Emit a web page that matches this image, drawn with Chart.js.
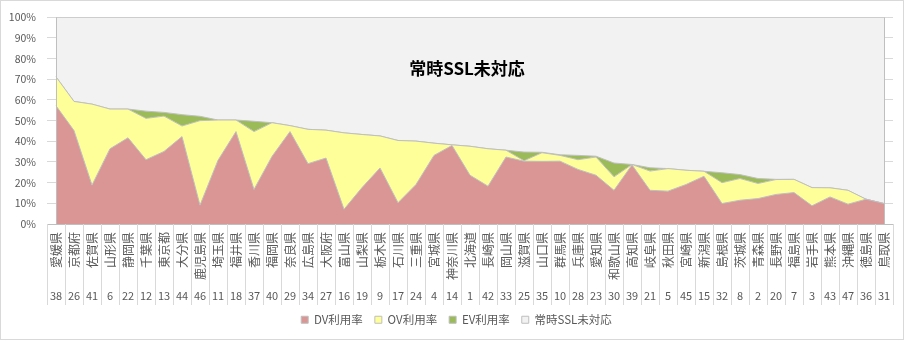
<!DOCTYPE html>
<html>
<head>
<meta charset="utf-8">
<script src="https://cdn.jsdelivr.net/npm/chart.js@4.4.1/dist/chart.umd.min.js"></script>
<style>
  html, body { margin: 0; padding: 0; background: #ffffff; }
  #wrap { width: 908px; height: 342px; }
</style>
</head>
<body>
<div id="wrap"><canvas id="grafico-ssl"></canvas></div>
<script>
// 都道府県（常時SSL未対応率の低い順）
var prefectures = ["愛媛県", "京都府", "佐賀県", "山形県", "静岡県", "千葉県", "東京都", "大分県", "鹿児島県", "埼玉県",
    "福井県", "香川県", "福岡県", "奈良県", "広島県", "大阪府", "富山県", "山梨県", "栃木県", "石川県",
    "三重県", "宮城県", "神奈川県", "北海道", "長崎県", "岡山県", "滋賀県", "山口県", "群馬県", "兵庫県",
    "愛知県", "和歌山県", "高知県", "岐阜県", "秋田県", "宮崎県", "新潟県", "島根県", "茨城県", "青森県",
    "長野県", "福島県", "岩手県", "熊本県", "沖縄県", "徳島県", "鳥取県"];

var prefCodes = ["38", "26", "41", "6", "22", "12", "13", "44", "46", "11",
    "18", "37", "40", "29", "34", "27", "16", "19", "9", "17",
    "24", "4", "14", "1", "42", "33", "25", "35", "10", "28",
    "23", "30", "39", "21", "5", "45", "15", "32", "8", "2",
    "20", "7", "3", "43", "47", "36", "31"];

var dvRate = [57.2, 45.2, 18.8, 36.4, 41.7, 31.1, 35.1, 42.3, 9.1, 30.8,
    44.7, 16.7, 32.7, 44.7, 29.2, 31.9, 7.1, 17.6, 27.1, 10.3,
    19.1, 33.2, 38.0, 23.6, 18.3, 32.4, 30.4, 30.3, 30.4, 26.4,
    23.6, 16.3, 28.6, 16.3, 15.9, 19.1, 23.1, 9.9, 11.5, 12.3,
    14.3, 15.2, 8.8, 13.1, 9.6, 12.0, 9.9];

var ovRate = [14.0, 14.1, 39.2, 19.2, 13.9, 20.0, 17.1, 5.1, 40.9, 19.5,
    5.6, 28.0, 16.3, 2.9, 16.6, 13.5, 37.0, 25.7, 15.5, 30.1,
    21.0, 5.9, 0.3, 14.0, 18.1, 3.3, 0.2, 4.2, 2.8, 4.7,
    8.8, 6.5, 0.2, 9.3, 10.9, 6.9, 2.4, 10.1, 10.5, 7.3,
    7.2, 6.4, 8.8, 4.4, 6.7, 0, 0];

var evRate = [0, 0, 0, 0, 0, 3.5, 1.8, 5.5, 2.1, 0,
    0, 5.0, 0, 0, 0, 0, 0, 0, 0, 0,
    0, 0, 0, 0, 0, 0, 4.2, 0.2, 0.3, 2.1,
    0.4, 6.7, 0, 1.6, 0, 0, 0, 4.8, 1.9, 2.4,
    0.1, 0, 0, 0, 0, 0, 0];

var noSslRate = [28.8, 40.7, 42.0, 44.4, 44.4, 45.4, 46.0, 47.1, 47.9, 49.7,
    49.7, 50.3, 51.0, 52.4, 54.2, 54.6, 55.9, 56.7, 57.4, 59.6,
    59.9, 60.9, 61.7, 62.4, 63.6, 64.3, 65.2, 65.3, 66.5, 66.8,
    67.2, 70.5, 71.2, 72.8, 73.2, 74.0, 74.5, 75.2, 76.1, 78.0,
    78.4, 78.4, 82.4, 82.5, 83.7, 88.0, 90.1];

var yTicks = [0, 10, 20, 30, 40, 50, 60, 70, 80, 90, 100];

var fonte = "'Noto Sans CJK JP', 'Noto Sans', sans-serif";
var cinza = "#595959";

// 凡例の位置調整 / 図中の系列名 / 区切り線 / 外枠
var extras = {
    id: "extras",
    afterLayout: function (chart) {
        chart.legend.left += 20;
        chart.legend.width -= 20;
    },
    afterDatasetsDraw: function (chart) {
        var ctx = chart.ctx;
        var area = chart.chartArea;
        var x = chart.scales.x;
        var y = chart.scales.y;
        ctx.save();
        ctx.strokeStyle = "#bfbfbf";
        ctx.lineWidth = 1;
        var p0 = Math.round(x.getPixelForTick(0)) + 0.5;
        var p1 = Math.round(x.getPixelForTick(prefectures.length - 1)) + 0.5;
        ctx.beginPath();
        ctx.moveTo(p0, area.top);
        ctx.lineTo(p0, area.bottom);
        ctx.moveTo(p1, area.top);
        ctx.lineTo(p1, area.bottom);
        ctx.stroke();

        ctx.fillStyle = "#000000";
        ctx.font = "bold 17px " + fonte;
        ctx.textAlign = "center";
        ctx.textBaseline = "middle";
        ctx.fillText("常時SSL未対応", (area.left + area.right) / 2 - 3, y.getPixelForValue(75));
        ctx.restore();
    },
    afterDraw: function (chart) {
        var ctx = chart.ctx;
        var area = chart.chartArea;
        var x = chart.scales.x;
        var x2 = chart.scales.x2;
        var w = x.getPixelForTick(1) - x.getPixelForTick(0);
        ctx.save();
        ctx.strokeStyle = "#d9d9d9";
        ctx.lineWidth = 1;
        ctx.beginPath();
        for (var i = 0; i <= prefectures.length; i++) {
            var px = Math.round(x.getPixelForTick(0) - w / 2 + i * w) + 0.5;
            ctx.moveTo(px, area.bottom);
            ctx.lineTo(px, x2.bottom + 3);
        }
        ctx.stroke();
        ctx.strokeRect(0.5, 0.5, 903, 339);
        ctx.restore();
    }
};

var referencia = document.querySelector("#grafico-ssl").getContext("2d");

var graficoSsl = new Chart(referencia, {
    type: "line",
    data: {
        labels: prefectures,
        datasets: [{
                label: "DV利用率",
                data: dvRate,
                backgroundColor: "#d99694",
                borderColor: "#bfbfbf",
                borderWidth: 1,
                fill: "origin"
            },
            {
                label: "OV利用率",
                data: ovRate,
                backgroundColor: "#ffff99",
                borderColor: "#bfbfbf",
                borderWidth: 1,
                fill: "-1"
            },
            {
                label: "EV利用率",
                data: evRate,
                backgroundColor: "#9bbb59",
                borderColor: "#bfbfbf",
                borderWidth: 1,
                fill: "-1"
            },
            {
                label: "常時SSL未対応",
                data: noSslRate,
                backgroundColor: "#f2f2f2",
                borderColor: "#bfbfbf",
                borderWidth: 1,
                fill: "-1"
            }
        ]
    },
    options: {
        responsive: true,
        maintainAspectRatio: false,
        animation: false,
        devicePixelRatio: 1,
        elements: {
            point: { radius: 0, hoverRadius: 0 },
            line: { tension: 0 }
        },
        layout: {
            padding: { left: 0, right: 15, top: 15, bottom: 6.5 }
        },
        plugins: {
            tooltip: { enabled: false },
            legend: {
                position: "bottom",
                labels: {
                    boxWidth: 7,
                    boxHeight: 7,
                    padding: 12,
                    color: cinza,
                    font: { family: fonte, size: 11.5 }
                }
            }
        },
        scales: {
            x: {
                type: "category",
                offset: true,
                weight: 0,
                grid: { display: false, drawTicks: false },
                border: { display: true, color: "#bfbfbf" },
                ticks: {
                    autoSkip: false,
                    minRotation: 90,
                    maxRotation: 90,
                    padding: 8,
                    color: cinza,
                    font: { family: fonte, size: 12 }
                },
                afterFit: function (scale) { scale.height = 62; }
            },
            x2: {
                type: "category",
                position: "bottom",
                labels: prefCodes,
                offset: true,
                weight: 1,
                grid: { display: false, drawTicks: false },
                border: { display: false },
                ticks: {
                    autoSkip: false,
                    maxRotation: 0,
                    padding: 3,
                    color: cinza,
                    font: { family: fonte, size: 11 }
                },
                afterFit: function (scale) { scale.height = 16; }
            },
            y: {
                stacked: true,
                min: 0,
                max: 100,
                grid: { color: "#d9d9d9", drawTicks: false },
                border: { display: false },
                afterBuildTicks: function (scale) {
                    scale.ticks = yTicks.map(function (v) { return { value: v }; });
                },
                ticks: {
                    padding: 11,
                    color: cinza,
                    font: { family: fonte, size: 10.5 },
                    callback: function (v) { return v + "%"; }
                },
                afterFit: function (scale) { scale.width = 47; }
            }
        }
    },
    plugins: [extras]
});
</script>
</body>
</html>
